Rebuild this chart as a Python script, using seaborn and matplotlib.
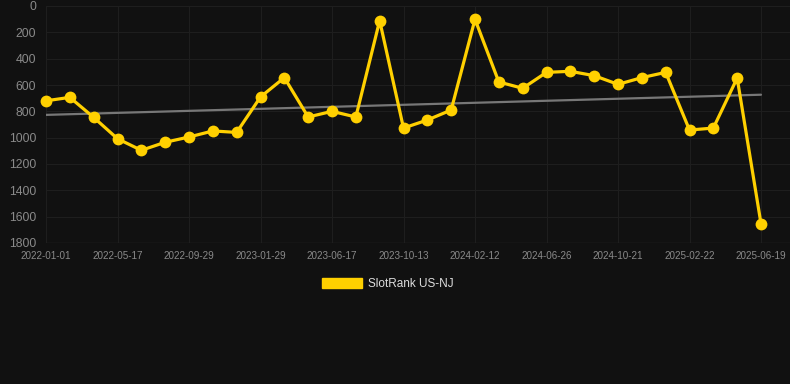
import numpy as np
import pandas as pd
import matplotlib
matplotlib.use("Agg")
import matplotlib.pyplot as plt
import seaborn as sns
from matplotlib.patches import Patch

# ---- data ----
rank = [720, 694, 846, 1008, 1096, 1035, 995, 949, 960, 691,
        544, 843, 800, 843, 111, 927, 866, 790, 101, 577,
        625, 504, 496, 529, 595, 544, 504, 942, 927, 547, 1653]
tick_labels = ["2022-01-01", "2022-05-17", "2022-09-29", "2023-01-29",
               "2023-06-17", "2023-10-13", "2024-02-12", "2024-06-26",
               "2024-10-21", "2025-02-22", "2025-06-19"]
series_name = "SlotRank US-NJ"

idx = np.arange(len(rank))
df = pd.DataFrame({"idx": idx, "rank": rank})

sns.set_theme(style="dark")
plt.rcParams["font.family"] = ["Liberation Sans", "DejaVu Sans"]

bg = "#111111"
gold = "#FFD000"
fig = plt.figure(figsize=(7.9, 3.84), dpi=100, facecolor=bg)
ax = fig.add_axes([46/790, 1-243/384, 1-46/790, (243-6)/384])
ax.set_facecolor(bg)

# trend line (linear fit)
coef = np.polyfit(idx, rank, 1)
trend = np.polyval(coef, idx)
sns.lineplot(x=idx, y=trend, ax=ax, color="#777777", linewidth=1.6, zorder=2)

sns.lineplot(data=df, x="idx", y="rank", ax=ax, color=gold, linewidth=2.3,
             marker="o", markersize=8.5, markeredgewidth=0, zorder=3,
             clip_on=False)

ax.set_xlim(0, (790-46)/((761-46)/30))
ax.set_ylim(1800, 0)
ax.set_yticks(np.arange(0, 1801, 200))
ax.set_xticks(idx[::3])
ax.set_xticklabels(tick_labels)
ax.tick_params(axis="y", colors="#8a8a8a", labelsize=8.8, length=0, pad=7)
ax.tick_params(axis="x", colors="#8a8a8a", labelsize=7.1, length=0, pad=6)
ax.grid(True, color="#1e1e1e", linewidth=0.8)
ax.set_xlabel("")
ax.set_ylabel("")
for s in ax.spines.values():
    s.set_visible(False)
ax.axhline(1800, color="#262626", linewidth=1, zorder=1)

handle = Patch(facecolor=gold, edgecolor=gold, label=series_name)
fig.legend(handles=[handle], loc="center", bbox_to_anchor=(388/790, 1-284/384),
           frameon=False, fontsize=8.5, handlelength=3.4, handleheight=1.0,
           handletextpad=0.5, labelcolor="#dddddd")

fig.savefig("out.png", dpi=100, facecolor=bg)
